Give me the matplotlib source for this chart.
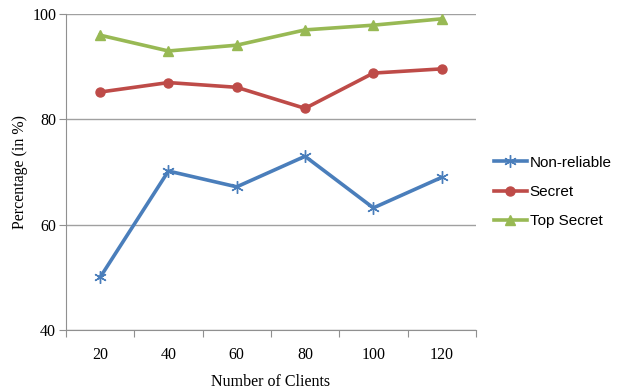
import matplotlib

matplotlib.use("Agg")
import matplotlib.pyplot as plt
import numpy as np

# Number of clients per run and detection percentage for each trust level
clients = ["20", "40", "60", "80", "100", "120"]
non_reliable = [50, 70.2, 67.2, 73, 63.2, 69]
secret = [85.2, 87, 86.1, 82.1, 88.8, 89.6]
top_secret = [96, 93, 94.1, 97, 97.9, 99.1]

fig = plt.figure(figsize=(6.22, 3.92), dpi=100)
ax = fig.add_axes([0.106, 0.158, 0.659, 0.806])

x = np.arange(1, len(clients) + 1)
ax.plot(x, non_reliable, color="#4A7EBB", linewidth=2.6, marker=(6, 2, 0),
        markersize=9, markeredgewidth=1.0, label="Non-reliable")
ax.plot(x, secret, color="#BE4B48", linewidth=2.6, marker="o",
        markersize=6.5, label="Secret")
ax.plot(x, top_secret, color="#98B954", linewidth=2.6, marker="^",
        markersize=7, label="Top Secret")

ax.set_xlim(0.5, len(clients) + 0.5)
ax.set_ylim(40, 100)
ax.set_yticks([40, 60, 80, 100])
ax.grid(True, axis="y", color="#a0a0a0", linewidth=1.0)
ax.set_axisbelow(True)

# category axis: tick marks between groups, labels in the middle
ax.set_xticks(np.arange(0.5, len(clients) + 1, 1.0))
ax.set_xticklabels([])
ax.set_xticks(x, minor=True)
ax.set_xticklabels(clients, minor=True)
ax.tick_params(axis="x", which="major", length=5, color="#909090", direction="out")
ax.tick_params(axis="x", which="minor", length=0, pad=12)
ax.tick_params(axis="y", length=5, color="#909090", pad=2)

serif = "Liberation Serif"
for lbl in ax.get_xticklabels(minor=True) + ax.get_yticklabels():
    lbl.set_fontfamily(serif)
    lbl.set_fontsize(11.5)

for side in ("top", "right"):
    ax.spines[side].set_visible(False)
for side in ("left", "bottom"):
    ax.spines[side].set_color("#909090")

ax.set_xlabel("Number of Clients", fontfamily=serif, fontsize=11.5, labelpad=8)
ax.set_ylabel("Percentage (in %)", fontfamily=serif, fontsize=11.5, labelpad=3)

ax.legend(loc="center left", bbox_to_anchor=(1.01, 0.437), frameon=False,
          prop={"family": "Liberation Sans", "size": 11},
          handlelength=2.2, handletextpad=0.15, labelspacing=1.0)

fig.savefig("out.png", dpi=100)
